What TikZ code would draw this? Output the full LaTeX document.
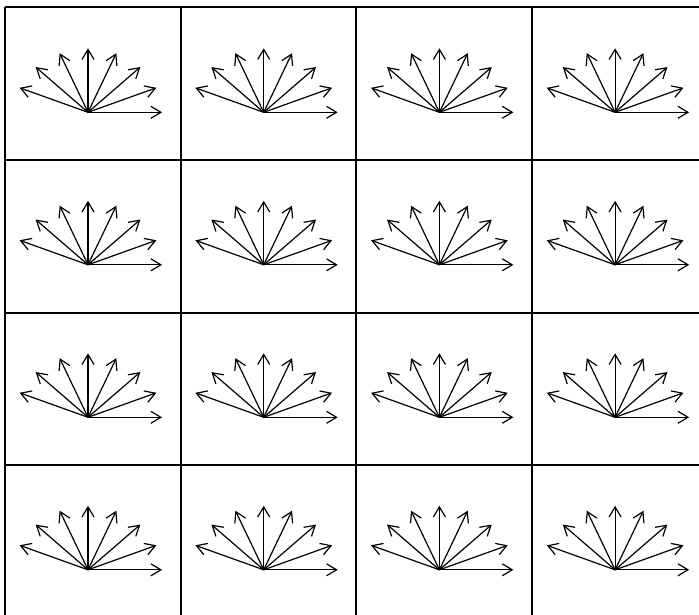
\documentclass[tikz,border=0pt]{standalone}
\usetikzlibrary{arrows.meta}
\begin{document}
\begin{tikzpicture}[x=1pt,y=-1pt,
  vec/.style={line width=1.2pt,-{Straight Barb[length=10pt,width=12pt,line width=1.2pt]}},
  gridline/.style={line width=2pt}]
\useasboundingbox (0,0) rectangle (699,615);
\fill[white] (0,0) rectangle (699,615);
\foreach \c in {0,...,3} {
  \foreach \r in {0,...,3} {
    \coordinate (o\c\r) at ({88+175.7*\c},{112.3+152.5*\r});
    \foreach \a in {0,22.5,...,157.5}
      \draw[vec] (o\c\r) -- ++({74*cos(\a)},{-64*sin(\a)});
  }
}
\foreach \k in {0,...,3} {
  \draw[gridline] ({4.8+175.7*\k},7.5) -- ({4.8+175.7*\k},615);
  \draw[gridline] (4.8,{7.5+152.5*\k}) -- (699,{7.5+152.5*\k});
}
\end{tikzpicture}
\end{document}
